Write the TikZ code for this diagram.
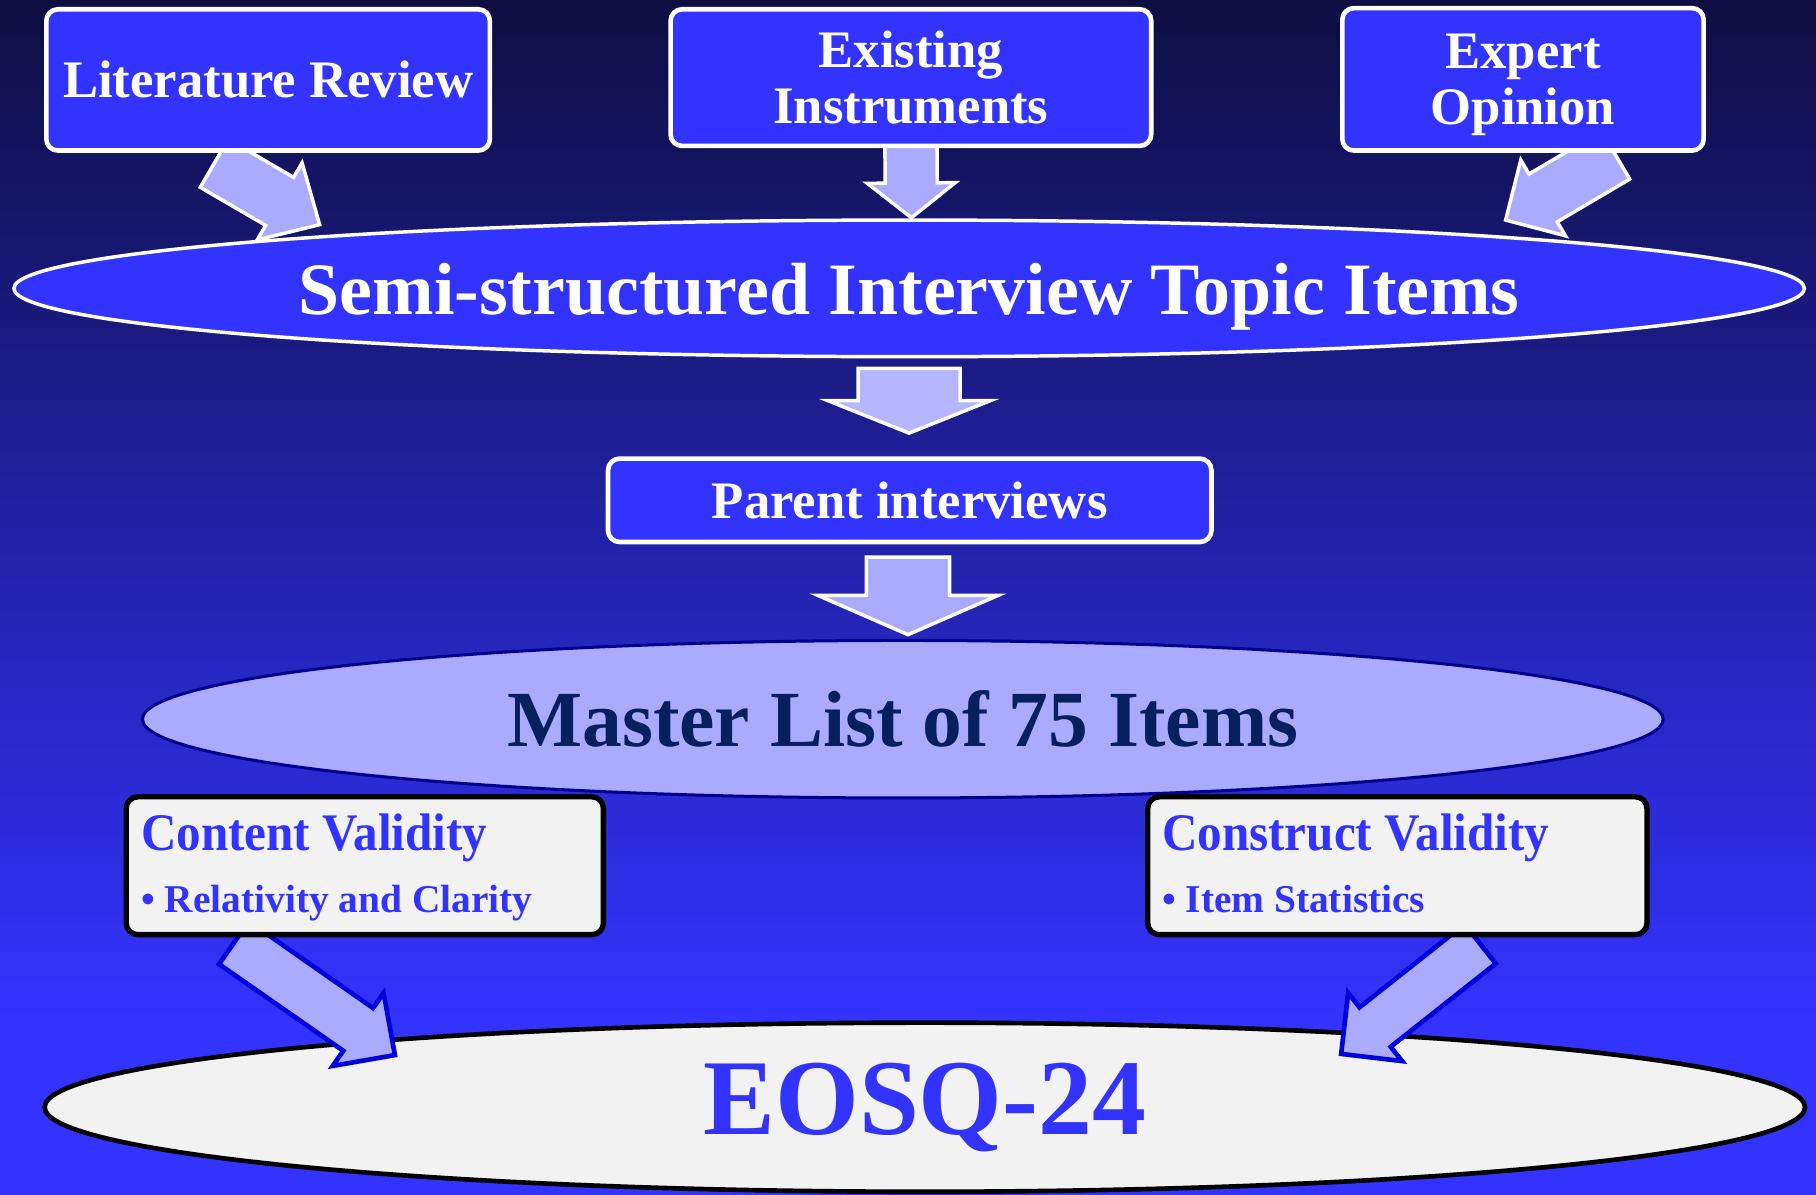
\documentclass[tikz,border=0pt]{standalone}
\usepackage{fontspec}
\setmainfont{Liberation Serif}
\newfontfamily\condserif{Liberation Serif}[FakeStretch=0.93]
\usetikzlibrary{shapes.geometric,calc}
\definecolor{bgtop}{HTML}{0E0E42}
\definecolor{bgq}{HTML}{1A1A80}
\definecolor{bgmid}{HTML}{2626BC}
\definecolor{bgbot}{HTML}{3333FF}
\definecolor{boxblue}{HTML}{3333FF}
\definecolor{lav}{HTML}{AAAAFF}
\definecolor{lavlight}{HTML}{B6B6FF}
\definecolor{paper}{HTML}{F2F2F2}
\definecolor{navy}{HTML}{06205E}
\definecolor{navyline}{HTML}{000090}
\definecolor{arrowblue}{HTML}{0000DD}
% shading is fitted so that 25bp..75bp spans the filled path (bottom to top)
\pgfdeclareverticalshading{bgshade}{100bp}{color(0bp)=(bgbot); color(25bp)=(bgbot); color(32bp)=(bgbot); color(48bp)=(bgmid); color(61bp)=(bgq); color(75bp)=(bgtop); color(100bp)=(bgtop)}
\newcommand\blkarrow[6]{%
  \coordinate (ba-c) at ($(#3)!#6!(#2)$);
  \draw[#1] ($(#2)!#4!90:(#3)$) -- ($(ba-c)!#4!90:(#3)$) -- ($(ba-c)!#5!90:(#3)$) -- (#3)
    -- ($(ba-c)!#5!-90:(#3)$) -- ($(ba-c)!#4!-90:(#3)$) -- ($(#2)!#4!-90:(#3)$) -- cycle;}
\tikzset{
  topbox/.style={draw=white, line width=2pt, fill=boxblue, rounded corners=5pt, inner sep=0pt,
    text=white, align=center, font={\fontsize{22.75pt}{24pt}\selectfont\bfseries}},
  valbox/.style={draw=black, line width=2.3pt, fill=paper, rounded corners=5pt, inner sep=0pt},
  valtitle/.style={anchor=base west, inner sep=0pt, text=boxblue, font={\condserif\fontsize{22.8pt}{26pt}\selectfont\bfseries}},
  valsub/.style={anchor=base west, inner sep=0pt, text=boxblue, font={\fontsize{17pt}{20pt}\selectfont\bfseries}},
  whitearrow/.style={draw=white, line width=1.5pt, fill=lav},
  bluearrow/.style={draw=arrowblue, line width=2pt, fill=lav},
}
\begin{document}
\begin{tikzpicture}[x=0.5pt, y=-0.5pt]
\useasboundingbox (0,0) rectangle (1568,1031);
\fill[shading=bgshade] (0,0) rectangle (1568,1031);

% ellipses
\node[ellipse, draw=white, line width=1.5pt, fill=boxblue, minimum width=773pt, minimum height=59pt, inner sep=0pt, text depth=0pt,
  text=white, font={\fontsize{31.9pt}{34pt}\selectfont\bfseries}] (semi) at (785,249) {Semi-structured Interview Topic Items};
\node[ellipse, draw=navyline, line width=1.3pt, fill=lav, minimum width=656.5pt, minimum height=68pt, inner sep=0pt,
  text=navy, font={\fontsize{34.35pt}{36pt}\selectfont\bfseries}] (master) at (779.5,621) {Master List of 75 Items};
\node[ellipse, draw=black, line width=2pt, fill=paper, minimum width=760pt, minimum height=73pt, inner sep=0pt,
  text=boxblue, font={\fontsize{46.5pt}{48pt}\selectfont\bfseries}] (eosq) at (798.5,956) {EOSQ-24};

% arrow end points
\coordinate (a1t) at (185,141);  \coordinate (a1h) at (276,194);
\coordinate (a2t) at (786.5,120); \coordinate (a2h) at (787,188);
\coordinate (a3t) at (1395,134); \coordinate (a3h) at (1300,190);
\coordinate (a4t) at (785,318);  \coordinate (a4h) at (785,374);
\coordinate (a5t) at (784,481);  \coordinate (a5h) at (784,548);
\coordinate (a6t) at (202,814);  \coordinate (a6h) at (341,911);
\coordinate (a7t) at (1278,815); \coordinate (a7h) at (1158,910);

\blkarrow{whitearrow}{a1t}{a1h}{12pt}{19.25pt}{20pt}
\blkarrow{whitearrow}{a2t}{a2h}{11.25pt}{19pt}{15pt}
\blkarrow{whitearrow}{a3t}{a3h}{12pt}{19pt}{18.8pt}
\blkarrow{whitearrow,fill=lavlight}{a4t}{a4h}{22pt}{35pt}{14pt}
\blkarrow{whitearrow}{a5t}{a5h}{18pt}{39pt}{17pt}
\blkarrow{bluearrow}{a6t}{a6h}{11.25pt}{19.2pt}{19.35pt}
\blkarrow{bluearrow}{a7t}{a7h}{10.85pt}{18.75pt}{18.7pt}

% boxes
\node[topbox, minimum width=191.5pt, minimum height=61pt] (lit) at (231.5,69) {Literature Review};
\node[topbox, minimum width=207.5pt, minimum height=59pt] (exist) at (786.5,67) {Existing\\Instruments};
\node[topbox, minimum width=156pt, minimum height=61.5pt, text depth=0pt] (expert) at (1315,68.5) {Expert\\Opinion};
\node[topbox, minimum width=260.5pt, minimum height=36pt] (parent) at (785.5,432) {Parent interviews};

\node[valbox, minimum width=206pt, minimum height=59.5pt] (content) at (315,747.5) {};
\node[valtitle] (contentT) at (121.5,734) {Content Validity};
\node[valsub] (contentS) at (121.5,788) {• Relativity and Clarity};

\node[valbox, minimum width=215.5pt, minimum height=59.5pt] (construct) at (1206.5,747.5) {};
\node[valtitle] (constructT) at (1003,734) {Construct Validity};
\node[valsub] (constructS) at (1003,788) {• Item Statistics};
\end{tikzpicture}
\end{document}
